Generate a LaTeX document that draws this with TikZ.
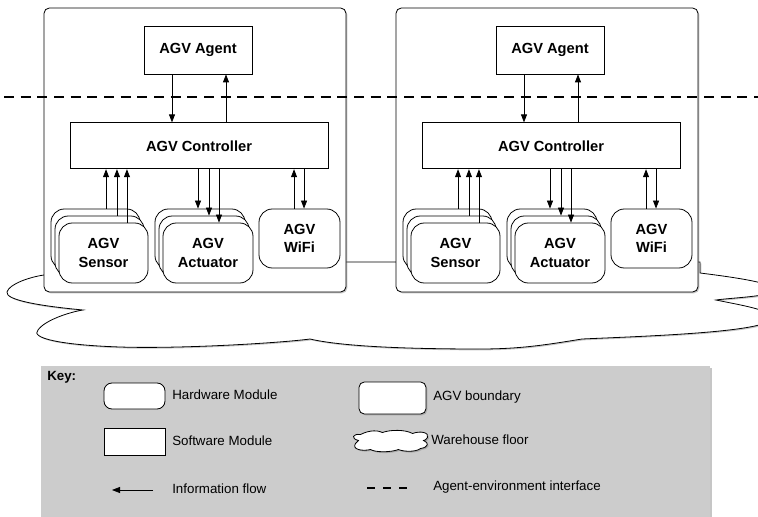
\documentclass[tikz,border=0pt]{standalone}
\usepackage{fontspec}
\setmainfont{Liberation Sans}
\usepackage{tikz}
\usetikzlibrary{arrows.meta, positioning, calc, shadows}
\tikzstyle{software} = [rectangle, draw=black, fill=white, line width=0.6pt, inner sep=0pt, text centered, font=\bfseries\fontsize{11}{14}\selectfont]
\tikzstyle{hardware} = [rectangle, rounded corners=10pt, draw=black, fill=white, line width=0.6pt, inner sep=0pt, minimum width=66.75pt, minimum height=45pt, align=center, font=\bfseries\fontsize{11}{14}\selectfont]
\tikzstyle{boundary} = [rectangle, rounded corners=4pt, draw=black, fill=white, line width=0.6pt, drop shadow={shadow xshift=1pt, shadow yshift=-1pt, opacity=0.45}]
\tikzstyle{floorcloud} = [draw=black, fill=white, line width=0.6pt, drop shadow={shadow xshift=1pt, shadow yshift=-1pt, opacity=0.45}]
\tikzstyle{arrow} = [line width=0.6pt, -{Triangle[length=6pt,width=4.5pt]}]
\tikzstyle{interface} = [line width=1pt, dash pattern=on 7.5pt off 5pt]
\tikzstyle{keytext} = [anchor=west, inner sep=0pt, text height=7.5pt, text depth=2pt, font=\fontsize{10}{12}\selectfont]

\begin{document}
\begin{tikzpicture}[x=0.75pt, y=-0.75pt]
        \useasboundingbox (0,0) rectangle (758,517);
        \clip (0,0) rectangle (758,517);

        % warehouse floor
        \draw[floorcloud] (100,262) -- (700,262) -- (700,273)
            .. controls (740,278) and (780,284) .. (776,292)
            .. controls (760,297) and (730,298) .. (716,300)
            .. controls (740,305) and (772,310) .. (772,318)
            .. controls (770,332) and (650,336) .. (582,339)
            .. controls (545,345) and (520,349) .. (480,349)
            .. controls (400,349) and (340,346) .. (310,339)
            .. controls (280,343) and (180,349) .. (120,347)
            .. controls (60,345) and (30,338) .. (38,330)
            .. controls (45,320) and (70,312) .. (83,310)
            .. controls (40,306) and (5,300) .. (7,292)
            .. controls (9,284) and (30,277) .. (44,275)
            .. controls (60,272) and (80,265) .. (100,262) -- cycle;

        \foreach \s/\dx in {L/0pt, R/264pt} {
        \begin{scope}[xshift=\dx]
            \node (agv\s) [boundary, minimum width=226.5pt, minimum height=213pt] at (195,150) {};
            \node (agent\s) [software, minimum width=81pt, minimum height=36pt] at (198,50) {AGV Agent};
            \node (ctrl\s) [software, minimum width=193.5pt, minimum height=34.5pt, below=36pt of agent\s, xshift=0.75pt] {AGV Controller};

            \node (sensA\s) [hardware] at (95.5,239) {};
            \node (sensB\s) [hardware] at (99.5,246) {};
            \node (sensC\s) [hardware] at (103.5,253) {AGV\\Sensor};
            \node (actA\s) [hardware, minimum width=67.5pt] at (200,239) {};
            \node (actB\s) [hardware, minimum width=67.5pt] at (204,246) {};
            \node (actC\s) [hardware, minimum width=67.5pt] at (208,253) {AGV\\Actuator};
            \node (wifi\s) [hardware, minimum width=60.75pt, minimum height=44.25pt] at (299.5,238.5) {AGV\\WiFi};

            \draw [arrow] ([xshift=-19.5pt]agent\s.south) -- ([xshift=-19.5pt]agent\s.south |- ctrl\s.north);
            \draw [arrow] ([xshift=21pt]agent\s.south |- ctrl\s.north) -- ([xshift=21pt]agent\s.south);

            \draw [arrow] ([xshift=7.9pt]sensA\s.north) -- ([xshift=7.9pt]sensA\s.north |- ctrl\s.south);
            \draw [arrow] ([xshift=13.1pt]sensB\s.north) -- ([xshift=13.1pt]sensB\s.north |- ctrl\s.south);
            \draw [arrow] ([xshift=17.6pt]sensC\s.north) -- ([xshift=17.6pt]sensC\s.north |- ctrl\s.south);

            \draw [arrow] ([xshift=-1.5pt]actA\s.north |- ctrl\s.south) -- ([xshift=-1.5pt]actA\s.north);
            \draw [arrow] ([xshift=3.75pt]actB\s.north |- ctrl\s.south) -- ([xshift=3.75pt]actB\s.north);
            \draw [arrow] ([xshift=8.25pt]actC\s.north |- ctrl\s.south) -- ([xshift=8.25pt]actC\s.north);

            \draw [arrow] ([xshift=-4.1pt]wifi\s.north) -- ([xshift=-4.1pt]wifi\s.north |- ctrl\s.south);
            \draw [arrow] ([xshift=3.4pt]wifi\s.north |- ctrl\s.south) -- ([xshift=3.4pt]wifi\s.north);
        \end{scope}
        }

        % agent-environment interface
        \coordinate (ifaceL) at (4,97);
        \coordinate (ifaceR) at (758,97);
        \draw [interface] (ifaceL) -- (ifaceR);

        % key
        \node (keybox) [anchor=north west, fill=black!20, minimum width=501.75pt, minimum height=117pt, drop shadow={shadow xshift=1pt, shadow yshift=-1pt, opacity=0.45}] at (41,366) {};
        \node (keytitle) [anchor=north west, inner sep=0pt, font=\bfseries\fontsize{10}{12}\selectfont] at (47,371) {Key:};

        \node (hwkey) [hardware, rounded corners=6pt, minimum width=45.75pt, minimum height=19.5pt] at (134.5,396) {};
        \node (hwtext) [keytext] at (172,396) {Hardware Module};
        \node (swkey) [software, minimum width=45.75pt, minimum height=20.25pt] at (134.5,441.5) {};
        \node (swtext) [keytext] at (172,441.5) {Software Module};
        \coordinate (flowA) at (153,490);
        \coordinate (flowB) at (112,490);
        \draw [arrow] (flowA) -- (flowB);
        \node (flowtext) [keytext] at (172,490) {Information flow};

        \node (agvkey) [boundary, minimum width=50.25pt, minimum height=24pt] at (392.5,398) {};
        \node (agvtext) [keytext] at (433,397) {AGV boundary};
        \begin{scope}[shift={(390.5,440.5)}]
        \draw[floorcloud] (-30,-6)
            .. controls (-20,-11) and (-12,-10) .. (-8,-8)
            .. controls (0,-11) and (15,-11) .. (22,-7)
            .. controls (30,-10) and (39,-8) .. (37,-3)
            .. controls (36,-1) and (34,0) .. (33,0)
            .. controls (39,2) and (38,7) .. (30,8)
            .. controls (25,12) and (12,11) .. (8,9)
            .. controls (0,12) and (-15,12) .. (-20,9)
            .. controls (-28,11) and (-39,9) .. (-35,3)
            .. controls (-34,1) .. (-32,0)
            .. controls (-40,-2) and (-38,-7) .. (-30,-6) -- cycle;
        \end{scope}
        \node (floortext) [keytext] at (431,441) {Warehouse floor};
        \coordinate (ifkeyA) at (367,488);
        \coordinate (ifkeyB) at (410,488);
        \draw [line width=1pt, dash pattern=on 6pt off 6pt] (ifkeyA) -- (ifkeyB);
        \node (iftext) [keytext] at (433,487) {Agent-environment interface};
    \end{tikzpicture}
\end{document}
